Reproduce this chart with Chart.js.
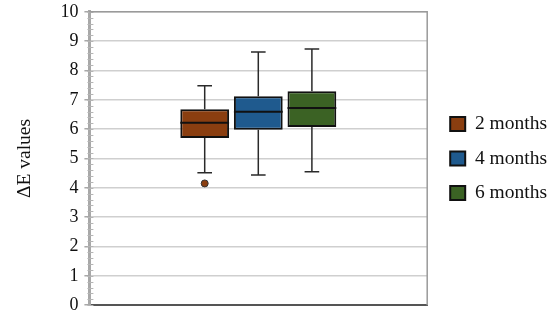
<!DOCTYPE html>
<html>
<head>
<meta charset="utf-8">
<script src="https://cdn.jsdelivr.net/npm/chart.js@4/dist/chart.umd.min.js"></script>
<style>
  html, body { margin: 0; padding: 0; background: #fff; }
  #wrap { width: 550px; height: 317px; }
</style>
</head>
<body>
<div id="wrap"><canvas id="boxChart"></canvas></div>
<script>
// box plot values
var categories = [""];
var seriesLabels = ["2 months", "4 months", "6 months"];
var q1 = [5.70, 5.98, 6.07];
var q3 = [6.68, 7.12, 7.29];
var medians = [6.22, 6.59, 6.72];
var whiskerLow = [4.51, 4.44, 4.55];
var whiskerHigh = [7.48, 8.63, 8.73];
var outliers = [[4.15], [], []];
var yTicks = [0, 1, 2, 3, 4, 5, 6, 7, 8, 9, 10];
var colors = ["#8a3e10", "#1f5a8e", "#3b6224"];

var serif = "'Liberation Serif', 'Times New Roman', serif";

// whiskers, medians, outliers and frame drawn from the scales
var boxExtras = {
  id: "boxExtras",
  afterLayout: function (chart) {
    // push the legend a bit to the right
    if (chart.legend) {
      chart.legend.left += 8;
      chart.legend.right += 8;
    }
  },
  afterDatasetsDraw: function (chart) {
    var c = chart.ctx;
    var y = chart.scales.y;
    var area = chart.chartArea;
    c.save();
    // minor ticks on the y axis
    c.strokeStyle = "#b5b5b5";
    c.lineWidth = 1;
    for (var v = 0; v <= 10.001; v += 0.2) {
      var py = Math.round(y.getPixelForValue(v)) + 0.5;
      c.beginPath();
      c.moveTo(area.left - 2, py);
      c.lineTo(area.left + 4, py);
      c.stroke();
    }
    // frame top/right
    c.strokeStyle = "#9a9a9a";
    c.lineWidth = 1.5;
    c.beginPath();
    c.moveTo(area.left, area.top);
    c.lineTo(area.right, area.top);
    c.lineTo(area.right, area.bottom);
    c.stroke();

    for (var i = 0; i < seriesLabels.length; i++) {
      var bar = chart.getDatasetMeta(i).data[0];
      var x = bar.x;
      var w = bar.width;
      var cap = w * 0.3;
      c.strokeStyle = "#2a2a2a";
      c.lineWidth = 1.5;
      c.beginPath();
      c.moveTo(x, y.getPixelForValue(q3[i]));
      c.lineTo(x, y.getPixelForValue(whiskerHigh[i]));
      c.moveTo(x - cap / 2, y.getPixelForValue(whiskerHigh[i]));
      c.lineTo(x + cap / 2, y.getPixelForValue(whiskerHigh[i]));
      c.moveTo(x, y.getPixelForValue(q1[i]));
      c.lineTo(x, y.getPixelForValue(whiskerLow[i]));
      c.moveTo(x - cap / 2, y.getPixelForValue(whiskerLow[i]));
      c.lineTo(x + cap / 2, y.getPixelForValue(whiskerLow[i]));
      c.stroke();
      // median
      c.strokeStyle = "#111";
      c.lineWidth = 2;
      c.beginPath();
      c.moveTo(x - w / 2, y.getPixelForValue(medians[i]));
      c.lineTo(x + w / 2, y.getPixelForValue(medians[i]));
      c.stroke();
      // outliers
      outliers[i].forEach(function (o) {
        c.beginPath();
        c.arc(x, y.getPixelForValue(o), 3.5, 0, Math.PI * 2);
        c.fillStyle = colors[i];
        c.fill();
        c.strokeStyle = "#333";
        c.lineWidth = 1;
        c.stroke();
      });
    }
    c.restore();
  }
};

var datasets = seriesLabels.map(function (lab, i) {
  return {
    label: lab,
    data: [[q1[i], q3[i]]],
    backgroundColor: colors[i],
    borderColor: "#111",
    borderWidth: 2,
    borderSkipped: false,
    categoryPercentage: 0.476,
    barPercentage: 0.91
  };
});

var ctx = document.getElementById("boxChart");
var myChart = new Chart(ctx, {
  type: "bar",
  data: { labels: categories, datasets: datasets },
  plugins: [boxExtras],
  options: {
    responsive: true,
    maintainAspectRatio: false,
    animation: false,
    layout: { padding: { left: 13, top: 2, right: 1, bottom: 2 } },
    plugins: {
      tooltip: { enabled: false },
      legend: {
        position: "right",
        labels: {
          boxWidth: 15,
          boxHeight: 14,
          padding: 15,
          color: "#111",
          font: { family: serif, size: 19.5 }
        }
      }
    },
    scales: {
      x: {
        ticks: { display: false },
        grid: { display: false, drawTicks: false },
        border: { display: true, color: "#555", width: 2 }
      },
      y: {
        min: 0,
        max: 10,
        afterBuildTicks: function (axis) {
          axis.ticks = yTicks.map(function (v) { return { value: v }; });
        },
        ticks: {
          color: "#111",
          padding: 6,
          font: { family: serif, size: 18, lineHeight: 0.65 }
        },
        grid: { color: "#cfcfcf", lineWidth: 1.5, tickLength: 5, tickColor: "#a8a8a8" },
        border: { display: true, color: "#a8a8a8", width: 3 },
        title: {
          display: true,
          text: "ΔE values",
          color: "#111",
          padding: { top: 0, bottom: 18 },
          font: { family: serif, size: 19.5 }
        }
      }
    }
  }
});
</script>
</body>
</html>
